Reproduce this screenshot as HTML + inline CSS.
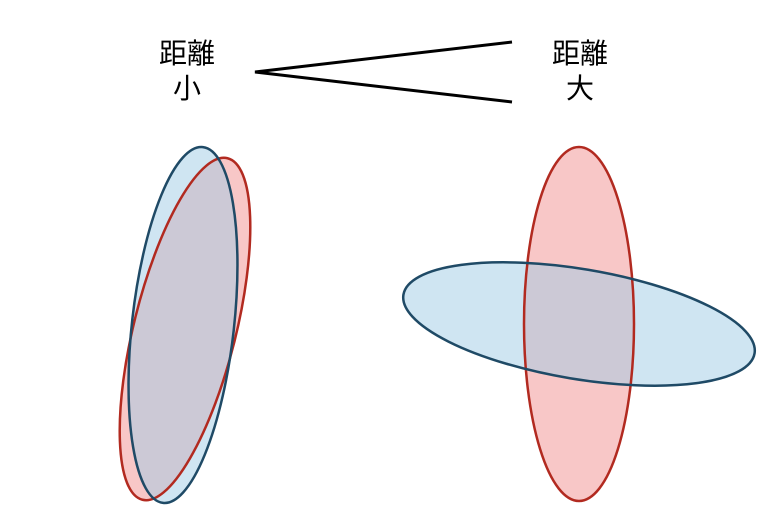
<!DOCTYPE html>
<html><head><meta charset="utf-8"><style>
html,body{margin:0;padding:0;background:#fff;}
svg{display:block}
text{font-family:"Liberation Sans","Noto Sans CJK JP",sans-serif;font-size:28px;fill:#000}
</style></head><body>
<svg width="782" height="532" viewBox="0 0 782 532" xmlns="http://www.w3.org/2000/svg">
<text x="187" y="63" text-anchor="middle">距離</text>
<text x="187" y="98" text-anchor="middle">小</text>
<text x="580" y="63" text-anchor="middle">距離</text>
<text x="580" y="98" text-anchor="middle">大</text>
<polyline points="512,42 255,72 512,102" fill="none" stroke="#000" stroke-width="3"/>
<!-- left -->
<ellipse cx="185" cy="329" rx="51" ry="176" transform="rotate(14 185 329)" fill="#f29090" fill-opacity="0.5"/>
<ellipse cx="183" cy="325" rx="51" ry="179" transform="rotate(6.4 183 325)" fill="#9fcbe6" fill-opacity="0.5"/>
<ellipse cx="185" cy="329" rx="51" ry="176" transform="rotate(14 185 329)" fill="none" stroke="#b22a20" stroke-width="2.5"/>
<ellipse cx="183" cy="325" rx="51" ry="179" transform="rotate(6.4 183 325)" fill="none" stroke="#1f4a66" stroke-width="2.5"/>
<!-- right -->
<ellipse cx="579" cy="324" rx="55" ry="177" fill="#f29090" fill-opacity="0.5"/>
<ellipse cx="579" cy="324" rx="178" ry="55" transform="rotate(9.5 579 324)" fill="#9fcbe6" fill-opacity="0.5"/>
<ellipse cx="579" cy="324" rx="55" ry="177" fill="none" stroke="#b22a20" stroke-width="2.5"/>
<ellipse cx="579" cy="324" rx="178" ry="55" transform="rotate(9.5 579 324)" fill="none" stroke="#1f4a66" stroke-width="2.5"/>
</svg>
</body></html>
